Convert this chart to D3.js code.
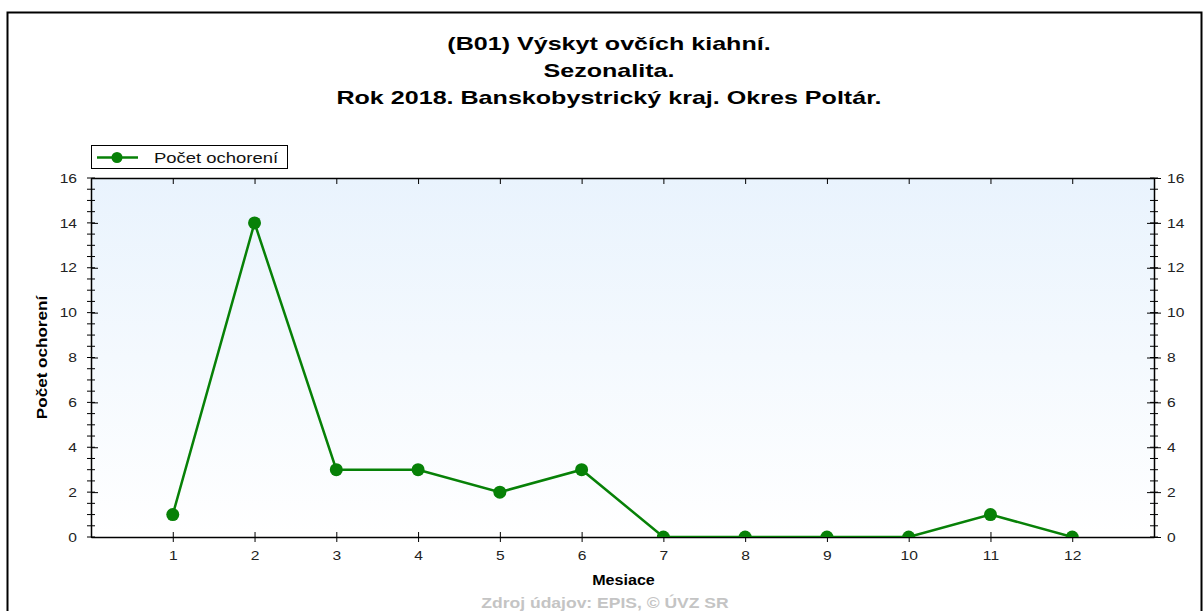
<!DOCTYPE html>
<html>
<head>
<meta charset="utf-8">
<script src="https://cdn.jsdelivr.net/npm/d3@7"></script>
<style>
  html, body { margin: 0; padding: 0; background: #fff; }
  svg { display: block; font-family: "Liberation Sans", Arial, sans-serif; }
</style>
</head>
<body>
<svg id="chart" width="1203" height="611"></svg>
<script>
// Monthly case counts
const months = [1, 2, 3, 4, 5, 6, 7, 8, 9, 10, 11, 12];
const cases = [1, 14, 3, 3, 2, 3, 0, 0, 0, 0, 1, 0];
const yTicks = [0, 2, 4, 6, 8, 10, 12, 14, 16];
const titleLines = [
  "(B01) Výskyt ovčích kiahní.",
  "Sezonalita.",
  "Rok 2018. Banskobystrický kraj. Okres Poltár."
];
const seriesName = "Počet ochorení";
const xTitle = "Mesiace";
const yTitle = "Počet ochorení";
const sourceNote = "Zdroj údajov: EPIS, © ÚVZ SR";

const svg = d3.select("#chart");
const m = { left: 91, right: 1154, top: 178, bottom: 537 };
const green = "#078107";

// widen a text run by factor k (the chart's typeface is set wide)
function widen(sel, k) {
  sel.each(function () {
    const len = this.getComputedTextLength();
    if (len > 0) {
      d3.select(this).attr("textLength", len * k).attr("lengthAdjust", "spacingAndGlyphs");
    }
  });
  return sel;
}

// outer frame
svg.append("rect").attr("x", 7.5).attr("y", 12.5)
  .attr("width", 1194).attr("height", 620)
  .attr("fill", "#fff").attr("stroke", "#000").attr("stroke-width", 2);

const x = d3.scaleLinear().domain([0, 13]).range([m.left, m.right]);
const y = d3.scaleLinear().domain([0, 16]).range([m.bottom, m.top]);

// plot background gradient
const defs = svg.append("defs");
const grad = defs.append("linearGradient").attr("id", "bg")
  .attr("x1", 0).attr("y1", 0).attr("x2", 0).attr("y2", 1);
grad.append("stop").attr("offset", "0%").attr("stop-color", "#e9f3fd");
grad.append("stop").attr("offset", "100%").attr("stop-color", "#ffffff");
defs.append("clipPath").attr("id", "plotClip").append("rect")
  .attr("x", m.left).attr("y", m.top)
  .attr("width", m.right - m.left).attr("height", m.bottom - m.top);

svg.append("rect").attr("x", m.left).attr("y", m.top)
  .attr("width", m.right - m.left).attr("height", m.bottom - m.top)
  .attr("fill", "url(#bg)");

// title
widen(svg.append("g").selectAll("text").data(titleLines).join("text")
  .attr("x", 609).attr("y", (d, i) => 50 + i * 27)
  .attr("text-anchor", "middle")
  .attr("font-size", 19).attr("font-weight", "bold").attr("fill", "#000")
  .text(d => d), 1.32);

// axes
const minor = d3.range(0, 16.01, 0.5);
function styleAxis(g) {
  g.selectAll("path.domain").attr("stroke", "#000").attr("stroke-width", 1.5);
  g.selectAll(".tick line").attr("stroke", "#000");
  g.selectAll(".tick text").attr("fill", "#222").attr("font-size", 13)
    .attr("font-family", "Liberation Sans, Arial, sans-serif");
}

// minor ticks on both value axes (crossing the axis line)
const minorG = svg.append("g");
minorG.selectAll("line.ml").data(minor).join("line").attr("class", "ml")
  .attr("x1", m.left - 4).attr("x2", m.left + 4)
  .attr("y1", d => y(d)).attr("y2", d => y(d)).attr("stroke", "#000");
minorG.selectAll("line.mr").data(minor).join("line").attr("class", "mr")
  .attr("x1", m.right - 4).attr("x2", m.right + 4)
  .attr("y1", d => y(d)).attr("y2", d => y(d)).attr("stroke", "#000");

const yLeft = svg.append("g").attr("transform", `translate(${m.left},0)`)
  .call(d3.axisLeft(y).tickValues(yTicks).tickSize(7).tickSizeOuter(0).tickPadding(7));
yLeft.selectAll(".tick line").attr("x2", 7);
styleAxis(yLeft);
widen(yLeft.selectAll(".tick text"), 1.2);

const yRight = svg.append("g").attr("transform", `translate(${m.right},0)`)
  .call(d3.axisRight(y).tickValues(yTicks).tickSize(7).tickSizeOuter(0).tickPadding(6));
yRight.selectAll(".tick line").attr("x1", -7);
styleAxis(yRight);
widen(yRight.selectAll(".tick text"), 1.2);

const xBottom = svg.append("g").attr("transform", `translate(0,${m.bottom})`)
  .call(d3.axisBottom(x).tickValues(months).tickSize(5).tickSizeOuter(0).tickPadding(9));
xBottom.selectAll(".tick line").attr("y1", -5);
styleAxis(xBottom);
widen(xBottom.selectAll(".tick text"), 1.2);

const xTop = svg.append("g").attr("transform", `translate(0,${m.top})`)
  .call(d3.axisBottom(x).tickValues(months).tickSize(6).tickSizeOuter(0).tickFormat(""));
styleAxis(xTop);

// axis titles
widen(svg.append("text").attr("x", (m.left + m.right) / 2 + 1).attr("y", 585)
  .attr("text-anchor", "middle").attr("font-size", 14).attr("font-weight", "bold")
  .text(xTitle), 1.15);
widen(svg.append("text")
  .attr("transform", `translate(47,${(m.top + m.bottom) / 2}) rotate(-90)`)
  .attr("text-anchor", "middle").attr("font-size", 14).attr("font-weight", "bold")
  .text(yTitle), 1.22);

// source note
widen(svg.append("text").attr("x", 605).attr("y", 608)
  .attr("text-anchor", "middle").attr("font-size", 14).attr("font-weight", "bold")
  .attr("fill", "#c4c4c4").text(sourceNote), 1.25);

// series
const data = months.map((mo, i) => ({ m: mo, v: cases[i] }));
const plot = svg.append("g").attr("clip-path", "url(#plotClip)");
plot.append("path").datum(data)
  .attr("fill", "none").attr("stroke", green).attr("stroke-width", 2.5)
  .attr("d", d3.line().x(d => x(d.m)).y(d => y(d.v)));
plot.selectAll("circle").data(data).join("circle")
  .attr("cx", d => x(d.m)).attr("cy", d => y(d.v)).attr("r", 6.5)
  .attr("fill", green);

// legend
const lg = svg.append("g");
lg.append("rect").attr("x", 91.5).attr("y", 145.5).attr("width", 196).attr("height", 23)
  .attr("fill", "#fff").attr("stroke", "#000").attr("stroke-width", 1);
lg.append("line").attr("x1", 97).attr("x2", 138).attr("y1", 157.5).attr("y2", 157.5)
  .attr("stroke", green).attr("stroke-width", 2.5);
lg.append("circle").attr("cx", 117).attr("cy", 157.5).attr("r", 5.5).attr("fill", green);
widen(lg.append("text").attr("x", 154).attr("y", 163).attr("font-size", 15).attr("fill", "#111")
  .text(seriesName), 1.23);
</script>
</body>
</html>
